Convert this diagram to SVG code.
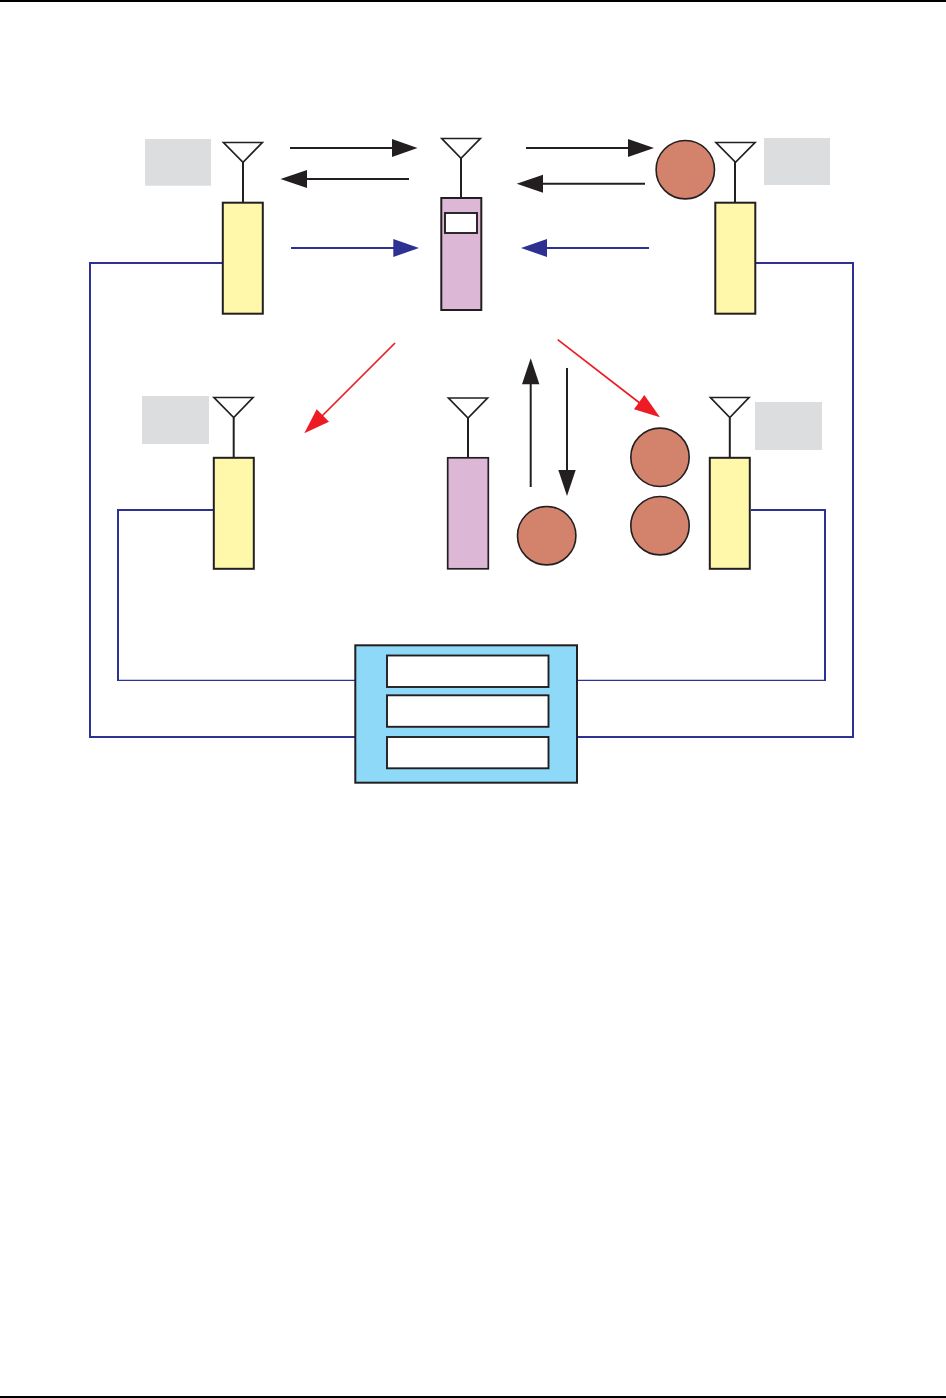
<svg xmlns="http://www.w3.org/2000/svg" width="946" height="1398" viewBox="0 0 946 1398">
<style>
.k{stroke:#231f20;stroke-width:2;fill:none}
.kf{stroke:#231f20;stroke-width:2}
.yel{fill:#fff8ab}
.pur{fill:#ddb8d6}
.sq{fill:#dcddde}
.ue{fill:#d3836b;stroke:#231f20;stroke-width:1.6}
.wh{fill:#fff;stroke:#231f20;stroke-width:1.9}
.ant{fill:#fff;stroke:#231f20;stroke-width:1.7}
.bl{fill:none;stroke:#2e3192;stroke-width:2}
.blt{fill:none;stroke:#2e3192;stroke-width:1.3}
.ah{fill:#231f20}
.ahb{fill:#2e3192}
.ahr{fill:#ed1c24}
.ln{stroke:#231f20;stroke-width:2;fill:none}
.lb{stroke:#2e3192;stroke-width:2;fill:none}
.lr{stroke:#ed1c24;stroke-width:1.7;fill:none}
</style>
<rect width="946" height="1398" fill="#fff"/>
<g id="page-rules">
<rect x="0" y="0" width="946" height="2" fill="#000"/>
<rect x="0" y="1396" width="946" height="2" fill="#000"/>
</g>
<g id="connectors">
<path class="bl" d="M222 263H90V737H355"/>
<path class="bl" d="M755 263H853V737H577"/>
<path class="bl" d="M213 510H118V680.300"/>
<path class="blt" d="M117 680.300H355"/>
<path class="bl" d="M751 510H825V680.300"/>
<path class="blt" d="M826 680.300H577"/>
<path class="ln" d="M290 148H393"/><path class="ah" d="M392 139L417.500 148L392 157Z"/>
<path class="ln" d="M409 179H306"/><path class="ah" d="M307 170L280.500 179L307 188Z"/>
<path class="lb" d="M291 248H394"/><path class="ahb" d="M393.300 239L419 248L393.300 257Z"/>
<path class="ln" d="M526 148H629"/><path class="ah" d="M628 139L654 148L628 157Z"/>
<path class="ln" d="M645 183.700H542"/><path class="ah" d="M543 174.700L516.700 183.700L543 192.700Z"/>
<path class="lb" d="M649 248H546"/><path class="ahb" d="M547 239L521 248L547 257Z"/>
<path class="ln" d="M530.700 487V383"/><path class="ah" d="M522 384.300L530.700 358.300L539.400 384.300Z"/>
<path class="ln" d="M567 368V471"/><path class="ah" d="M558.300 470L567 496L575.700 470Z"/>
<path class="lr" d="M395 343L320 418"/><path class="ahr" d="M316.700 409.300L304.300 433.300L329 421.700Z"/>
<path class="lr" d="M557.700 339.700L641 404"/><path class="ahr" d="M644.300 395L660 417.300L634 409.300Z"/>
</g>
<g id="ap-top-left">
<rect class="sq" x="145" y="139" width="66" height="46.700"/>
<path class="k" d="M243 162V203"/>
<path class="ant" d="M223.500 142.500H262.300L243 162.300Z"/>
<rect class="yel kf" x="222.800" y="202.700" width="40" height="111"/>
</g>
<g id="ap-top-right">
<rect class="sq" x="764" y="138" width="66" height="47"/>
<path class="k" d="M735 162V203"/>
<path class="ant" d="M716 142.500H755L735.500 162.300Z"/>
<rect class="yel kf" x="715.300" y="202.700" width="40" height="111"/>
</g>
<g id="ap-bottom-left">
<rect class="sq" x="142" y="396" width="67" height="48"/>
<path class="k" d="M233.700 418V458"/>
<path class="ant" d="M214 397.500H253L233.700 417.500Z"/>
<rect class="yel kf" x="213.800" y="457.800" width="40" height="111"/>
</g>
<g id="ap-bottom-right">
<rect class="sq" x="755" y="402" width="67" height="48"/>
<path class="k" d="M729.800 418V458"/>
<path class="ant" d="M710.500 397.500H749L729.800 417.500Z"/>
<rect class="yel kf" x="709.800" y="457.800" width="40" height="111"/>
</g>
<g id="phone-top">
<path class="k" d="M461 158V198"/>
<path class="ant" d="M441.800 138.500H480.300L461 158.300Z"/>
<rect class="pur kf" x="441.300" y="198" width="40" height="112"/>
<rect class="wh" x="445" y="213" width="32" height="20"/>
</g>
<g id="phone-bottom">
<path class="k" d="M468 418V458"/>
<path class="ant" d="M448.500 398H487.500L468 418Z"/>
<rect class="pur" stroke="#231f20" stroke-width="1.700" x="447.700" y="457.800" width="40.600" height="111"/>
</g>
<g id="ue-top"><circle class="ue" cx="685.300" cy="169.700" r="29.200"/></g>
<g id="ue-bottom"><circle class="ue" cx="546.700" cy="535.700" r="29.200"/></g>
<g id="ue-right-upper"><circle class="ue" cx="660" cy="457.300" r="29.200"/></g>
<g id="ue-right-lower"><circle class="ue" cx="660" cy="525.700" r="29.200"/></g>
<g id="controller">
<rect fill="#8ed8f8" stroke="#231f20" stroke-width="2" x="355.300" y="645.300" width="221.700" height="137.400"/>
<rect class="wh" x="387" y="655.500" width="161.500" height="31.500"/>
<rect class="wh" x="387" y="695.300" width="161.500" height="31.500"/>
<rect class="wh" x="387" y="737" width="161.500" height="31.300"/>
</g>
</svg>
